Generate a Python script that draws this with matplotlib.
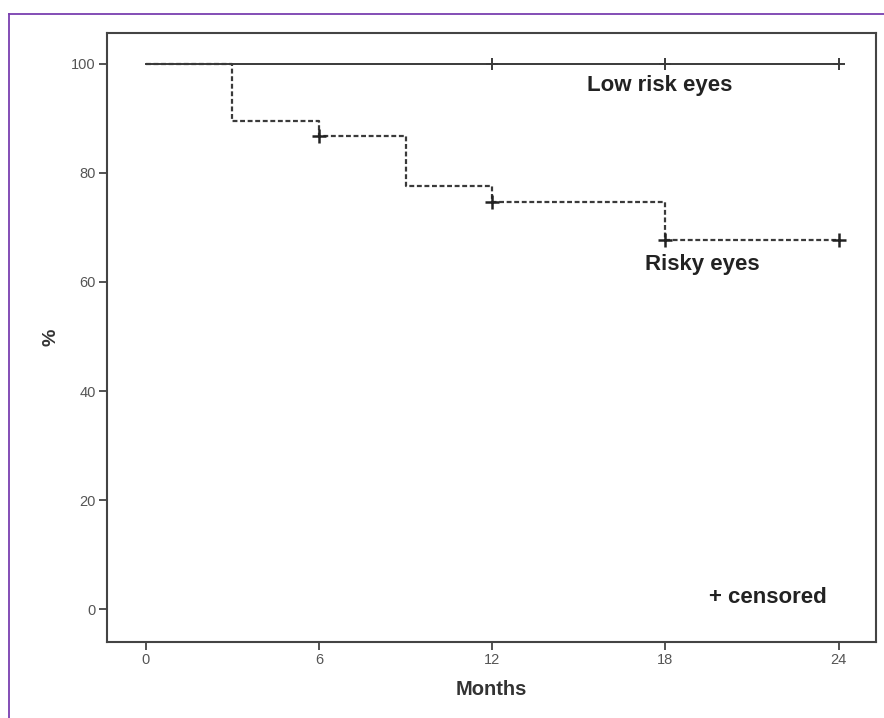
import numpy as np
import matplotlib.pyplot as plt
from matplotlib.lines import Line2D

# datos
months_risky = [0, 3, 6, 9, 12, 18, 24]
surv_risky = [100, 89.5, 86.8, 77.5, 74.6, 67.7, 67.7]
cens_risky_x = [6, 12, 18, 24]
cens_risky_y = [86.8, 74.6, 67.7, 67.7]

months_low = [0, 24]
surv_low = [100, 100]
cens_low_x = [12, 18, 24]
cens_low_y = [100, 100, 100]

xticks = [0, 6, 12, 18, 24]
yticks = [0, 20, 40, 60, 80, 100]

plt.rcParams['font.family'] = ['Liberation Sans', 'DejaVu Sans']

fig = plt.figure(figsize=(8.84, 7.18), dpi=100)
ax = fig.add_axes([0.121, 0.1058, 0.870, 0.848])

dark = '#3a3a3a'
# linea bajo riesgo (solida)
ax.plot(months_low, surv_low, color=dark, lw=1.4, zorder=2)
ax.plot(cens_low_x, cens_low_y, ls='none', marker='+', ms=9, mew=1.4, color=dark, zorder=3)
# linea ojos de riesgo (punteada)
ax.plot(months_risky, surv_risky, drawstyle='steps-post', color=dark, lw=1.6,
        ls=(0, (2.2, 1.2)), zorder=4)
ax.plot(cens_risky_x, cens_risky_y, ls='none', marker='+', ms=10, mew=1.8, color='#222222', zorder=5)

ax.set_xlim(-1.35, 25.3)
ax.set_ylim(-6.0, 105.6)
ax.set_xticks(xticks)
ax.set_yticks(yticks)
ax.tick_params(direction='out', length=6, width=1.3, color='#444444',
               labelcolor='#555555', labelsize=10.5, pad=2)
for s in ax.spines.values():
    s.set_color('#444444')
    s.set_linewidth(1.5)

ax.set_xlabel('Months', fontsize=14.5, fontweight='bold', color='#333333', labelpad=9)
ax.set_ylabel('%', fontsize=14, fontweight='bold', color='#333333')
ax.yaxis.set_label_coords(-0.062, 0.5)

ax.text(15.3, 96, 'Low risk eyes', fontsize=16, fontweight='bold', color='#222222',
        va='center', ha='left')
ax.text(17.3, 63.2, 'Risky eyes', fontsize=16, fontweight='bold', color='#222222',
        va='center', ha='left')
ax.text(19.5, 2.2, '+ censored', fontsize=16, fontweight='bold', color='#222222',
        va='center', ha='left')

# marco morado
purple = '#7a3fb0'
fig.add_artist(Line2D([9/884, 1], [1 - 14/718, 1 - 14/718], color=purple, lw=1.3,
                      transform=fig.transFigure))
fig.add_artist(Line2D([9/884, 9/884], [0, 1 - 14/718], color=purple, lw=1.3,
                      transform=fig.transFigure))

fig.savefig('out.png', dpi=100)
